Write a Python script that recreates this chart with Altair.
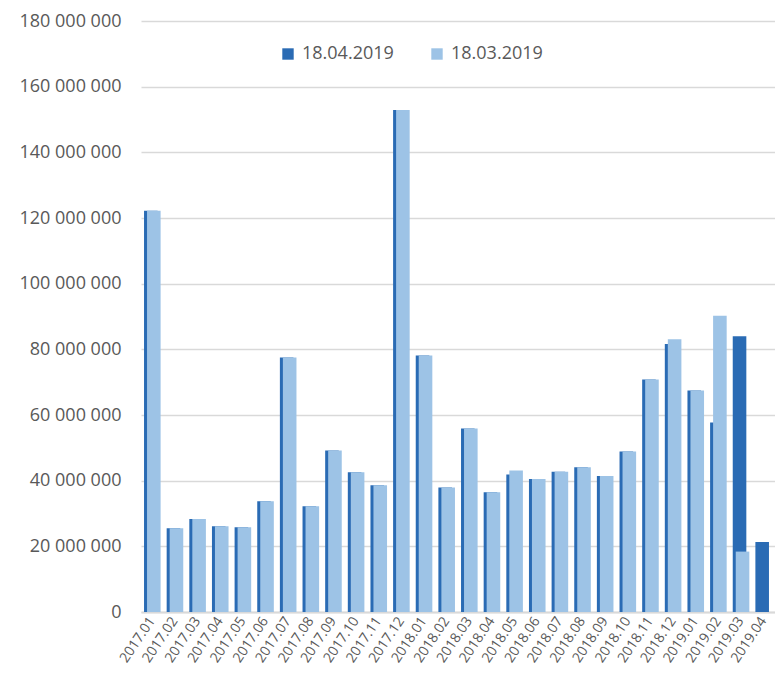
import altair as alt
import pandas as pd

months = ["2017.01", "2017.02", "2017.03", "2017.04", "2017.05", "2017.06", "2017.07",
          "2017.08", "2017.09", "2017.10", "2017.11", "2017.12", "2018.01", "2018.02",
          "2018.03", "2018.04", "2018.05", "2018.06", "2018.07", "2018.08", "2018.09",
          "2018.10", "2018.11", "2018.12", "2019.01", "2019.02", "2019.03", "2019.04"]

# values in millions
apr_2019 = [122.2, 25.5, 28.3, 26.1, 25.8, 33.7, 77.5, 32.2, 49.2, 42.6, 38.6, 152.9,
            78.1, 37.9, 55.9, 36.5, 41.9, 40.5, 42.7, 44.1, 41.4, 48.9, 70.8, 81.6,
            67.5, 57.7, 84.0, 21.3]
mar_2019 = [122.2, 25.5, 28.3, 26.1, 25.8, 33.7, 77.5, 32.2, 49.2, 42.6, 38.6, 152.9,
            78.1, 37.9, 55.9, 36.5, 43.1, 40.5, 42.7, 44.1, 41.4, 48.9, 70.8, 83.1,
            67.5, 90.2, 18.4, None]

series_names = ["18.04.2019", "18.03.2019"]
colors = ["#2A6BB4", "#9DC3E6"]

rows = []
for m, a, b in zip(months, apr_2019, mar_2019):
    rows.append({"month": m, "series": series_names[0], "value": a * 1e6})
    if b is not None:
        rows.append({"month": m, "series": series_names[1], "value": b * 1e6})
df = pd.DataFrame(rows)

FONT = "Open Sans"
TXT = "#595959"

x_enc = alt.X("month:N", sort=months, title=None,
              scale=alt.Scale(paddingInner=0, paddingOuter=0),
              axis=alt.Axis(labelAngle=-56, labelFontSize=14, labelColor=TXT,
                            labelFont=FONT, ticks=False, domainColor="#d9d9d9",
                            domainWidth=2, labelPadding=6, grid=False))
y_enc = alt.Y("value:Q", title=None,
              scale=alt.Scale(domain=[0, 180e6], nice=False),
              axis=alt.Axis(values=[i * 20e6 for i in range(10)],
                            labelExpr="replace(format(datum.value, ','), regexp(',', 'g'), ' ')",
                            labelFontSize=18, labelColor=TXT, labelFont=FONT,
                            ticks=False, domain=False, labelPadding=20,
                            gridColor="#d9d9d9", gridWidth=1.5))
color_enc = alt.Color("series:N",
                      scale=alt.Scale(domain=series_names, range=colors),
                      legend=alt.Legend(title=None, orient="none", direction="horizontal",
                                        legendX=138, legendY=24, symbolType="square",
                                        symbolSize=130, labelFontSize=18, labelColor=TXT,
                                        labelFont=FONT, columnPadding=34, labelOffset=5,
                                        symbolStrokeWidth=0))

base = alt.Chart(df)
dark = base.transform_filter(alt.datum.series == series_names[0]).mark_bar(
    width=alt.RelativeBandSize(0.6), xOffset=-1.5
).encode(x=x_enc, y=y_enc, color=color_enc)
light = base.transform_filter(alt.datum.series == series_names[1]).mark_bar(
    width=alt.RelativeBandSize(0.6), xOffset=1.5
).encode(x=x_enc, y=y_enc, color=color_enc)

chart = alt.layer(dark, light).properties(
    width=634, height=591,
    autosize=alt.AutoSizeParams(type="none"),
    padding={"left": 133, "top": 13, "right": 0, "bottom": 57},
).configure_view(stroke=None)

chart.save("out.html", embed_options={"renderer": "svg", "actions": False})
